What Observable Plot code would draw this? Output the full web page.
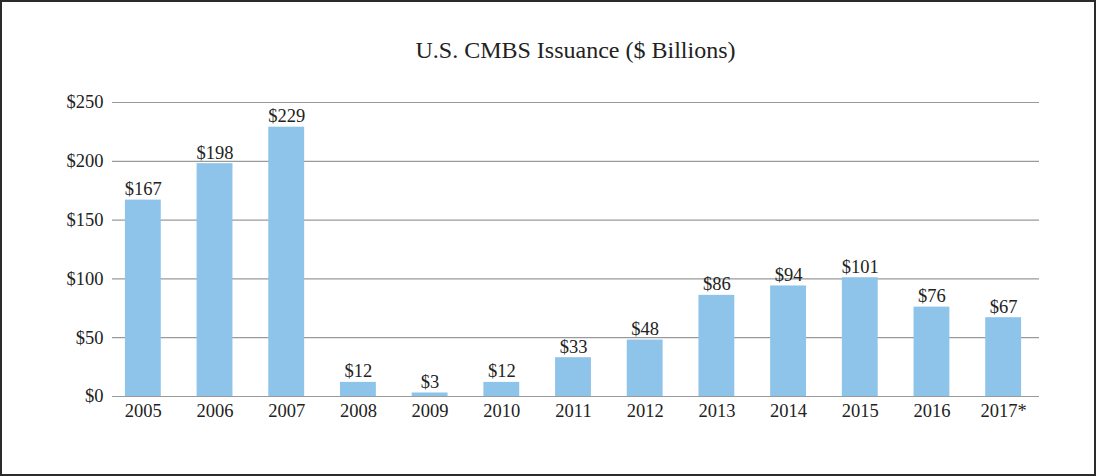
<!DOCTYPE html>
<html>
<head>
<meta charset="utf-8">
<script src="https://cdn.jsdelivr.net/npm/d3@7"></script>
<script src="https://cdn.jsdelivr.net/npm/@observablehq/plot@0.6"></script>
<style>
  body { margin: 0; background: #fff; }
  #wrap { position: relative; width: 1096px; height: 476px; overflow: hidden; background: #fff; }
  #frame { position: absolute; left: 0; top: 0; width: 1096px; height: 476px; box-sizing: border-box; border: 2px solid #2b2b2b; pointer-events: none; }
  #title { position: absolute; left: 112px; width: 927px; top: 35px; text-align: center; font-family: "Liberation Serif", "Times New Roman", serif; font-size: 24px; color: #222; line-height: 30px; }
  svg { position: absolute; left: 0; top: 0; }
</style>
</head>
<body>
<div id="wrap">
  <div id="title">U.S. CMBS Issuance ($ Billions)</div>
  <div id="chart"></div>
  <div id="frame"></div>
</div>
<script>
const years = ["2005","2006","2007","2008","2009","2010","2011","2012","2013","2014","2015","2016","2017*"];
const issuance = [167,198,229,12,3,12,33,48,86,94,101,76,67];
const yTicks = [0,50,100,150,200,250];

const data = years.map((y, i) => ({year: y, value: issuance[i]}));

const chart = Plot.plot({
  width: 1096,
  height: 476,
  marginLeft: 107,
  marginRight: 57,
  marginTop: 102,
  marginBottom: 80,
  style: {fontFamily: '"Liberation Serif", "Times New Roman", serif', fontSize: "18.5px", color: "#222", background: "transparent"},
  x: {domain: years, paddingInner: 0.5, paddingOuter: 0.25, round: false, label: null, tickSize: 0, tickPadding: 7},
  y: {domain: [0, 250], ticks: yTicks, label: null, tickSize: 0, tickPadding: 4, tickFormat: d => "$" + d},
  marks: [
    Plot.ruleY(yTicks, {stroke: "#9a9a9a", strokeWidth: 1.2, insetLeft: 5}),
    Plot.barY(data, {x: "year", y: "value", fill: "#8ec3ea"}),
    Plot.text(data, {x: "year", y: "value", text: d => "$" + d.value, lineAnchor: "bottom", dy: -5, fill: "#222", fontSize: 18.5})
  ]
});
document.getElementById("chart").appendChild(chart);
</script>
</body>
</html>
